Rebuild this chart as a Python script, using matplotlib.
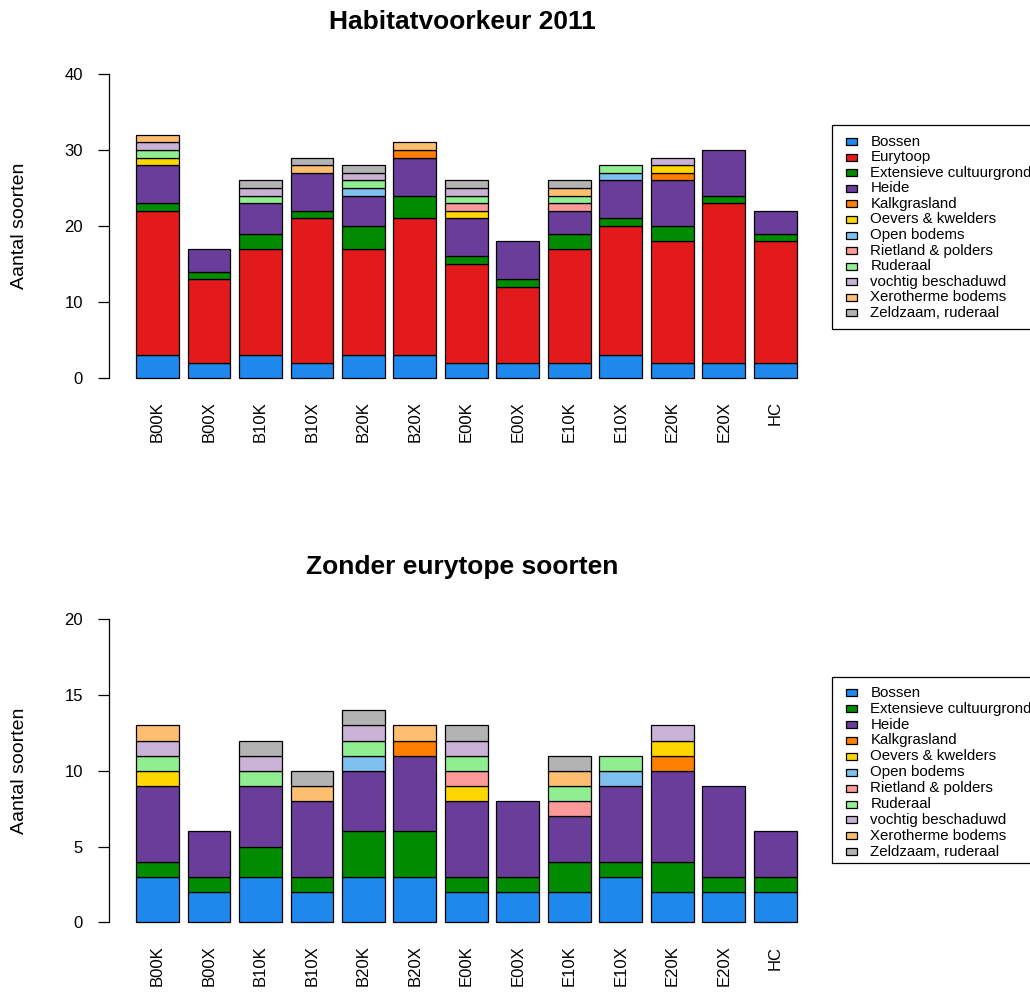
import matplotlib
matplotlib.use("Agg")
import matplotlib.pyplot as plt
from matplotlib.patches import Rectangle

plt.rcParams['font.family'] = ['Liberation Sans', 'DejaVu Sans']

groups = ["B00K", "B00X", "B10K", "B10X", "B20K", "B20X", "E00K", "E00X",
          "E10K", "E10X", "E20K", "E20X", "HC"]

categories = ["Bossen", "Eurytoop", "Extensieve cultuurgrond", "Heide", "Kalkgrasland",
              "Oevers & kwelders", "Open bodems", "Rietland & polders", "Ruderaal",
              "vochtig beschaduwd", "Xerotherme bodems", "Zeldzaam, ruderaal"]

bossen      = [3, 2, 3, 2, 3, 3, 2, 2, 2, 3, 2, 2, 2]
eurytoop    = [19, 11, 14, 19, 14, 18, 13, 10, 15, 17, 16, 21, 16]
extensieve  = [1, 1, 2, 1, 3, 3, 1, 1, 2, 1, 2, 1, 1]
heide       = [5, 3, 4, 5, 4, 5, 5, 5, 3, 5, 6, 6, 3]
kalkgras    = [0, 0, 0, 0, 0, 1, 0, 0, 0, 0, 1, 0, 0]
oevers      = [1, 0, 0, 0, 0, 0, 1, 0, 0, 0, 1, 0, 0]
open_bodems = [0, 0, 0, 0, 1, 0, 0, 0, 0, 1, 0, 0, 0]
rietland    = [0, 0, 0, 0, 0, 0, 1, 0, 1, 0, 0, 0, 0]
ruderaal    = [1, 0, 1, 0, 1, 0, 1, 0, 1, 1, 0, 0, 0]
vochtig     = [1, 0, 1, 0, 1, 0, 1, 0, 0, 0, 1, 0, 0]
xerotherm   = [1, 0, 0, 1, 0, 1, 0, 0, 1, 0, 0, 0, 0]
zeldzaam    = [0, 0, 1, 1, 1, 0, 1, 0, 1, 0, 0, 0, 0]

colors = ["#1E88EC", "#E31A1C", "#008B00", "#6A3D9A", "#FF7F00", "#FFD700",
          "#7EC0EE", "#FB9A99", "#90EE90", "#CAB2D6", "#FDBF6F", "#B3B3B3"]

series_all = [bossen, eurytoop, extensieve, heide, kalkgras, oevers, open_bodems,
              rietland, ruderaal, vochtig, xerotherm, zeldzaam]

W, H = 1030, 996
fig = plt.figure(figsize=(W / 100, H / 100), dpi=100)


def px_axes(left, right, top, bottom):
    return fig.add_axes([left / W, 1 - bottom / H, (right - left) / W, (bottom - top) / H])


positions = [0.7 + 1.2 * i for i in range(len(groups))]


def draw_panel(ax, cats, series, cols, ymax, yticks, title, title_y):
    bottoms = [0] * len(groups)
    for name, vals, c in zip(cats, series, cols):
        xs = [p for p, v in zip(positions, vals) if v > 0]
        hs = [v for v in vals if v > 0]
        bs = [b for b, v in zip(bottoms, vals) if v > 0]
        ax.bar(xs, hs, width=1.0, bottom=bs, color=c,
               edgecolor="black", linewidth=0.9, label=name)
        bottoms = [b + v for b, v in zip(bottoms, vals)]
    ax.set_xlim(-0.442, 16.21)
    ax.set_ylim(-0.04 * ymax, 1.04 * ymax)
    for s in ["top", "right", "bottom"]:
        ax.spines[s].set_visible(False)
    ax.spines["left"].set_bounds(0, ymax)
    ax.spines["left"].set_linewidth(0.9)
    ax.set_yticks(yticks)
    ax.tick_params(axis="y", length=8, width=0.9, pad=10.5, labelsize=12)
    ax.set_xticks(positions)
    ax.set_xticklabels(groups, rotation=90, fontsize=12)
    ax.tick_params(axis="x", length=0, pad=8)
    ax.set_ylabel("Aantal soorten", fontsize=14)
    ax.yaxis.set_label_coords(-0.112, 0.5)
    fig.text(462.5 / W, 1 - title_y / H, title, ha="center", va="center",
             fontsize=19, fontweight="bold")


ax1 = px_axes(108.5, 823, 61.8, 390.2)
draw_panel(ax1, categories, series_all, colors, 40, [0, 10, 20, 30, 40],
           "Habitatvoorkeur 2011", 22)

cats2 = [c for c in categories if c != "Eurytoop"]
series2 = [s for c, s in zip(categories, series_all) if c != "Eurytoop"]
cols2 = [col for c, col in zip(categories, colors) if c != "Eurytoop"]
ax2 = px_axes(108.5, 823, 607.2, 934.4)
draw_panel(ax2, cats2, series2, cols2, 20, [0, 5, 10, 15, 20],
           "Zonder eurytope soorten", 567)

# legends drawn in pixel space
ov = fig.add_axes([0, 0, 1, 1])
ov.set_xlim(0, W)
ov.set_ylim(H, 0)
ov.axis("off")


def draw_legend(cats, cols, top, first_y, step, bottom):
    ov.add_patch(Rectangle((831.5, top), 260, bottom - top, fill=False,
                           edgecolor="black", linewidth=0.9, clip_on=False))
    for i, (name, c) in enumerate(zip(cats, cols)):
        y = first_y + i * step
        ov.add_patch(Rectangle((846, y - 3.5), 11, 7, facecolor=c,
                               edgecolor="black", linewidth=0.9))
        ov.text(870.5, y, name, ha="left", va="center", fontsize=10.8)


draw_legend(categories, colors, 125, 141.7, 15.55, 328.5)
draw_legend(cats2, cols2, 676.7, 692.7, 15.9, 863)

fig.savefig("out.png", dpi=100)
